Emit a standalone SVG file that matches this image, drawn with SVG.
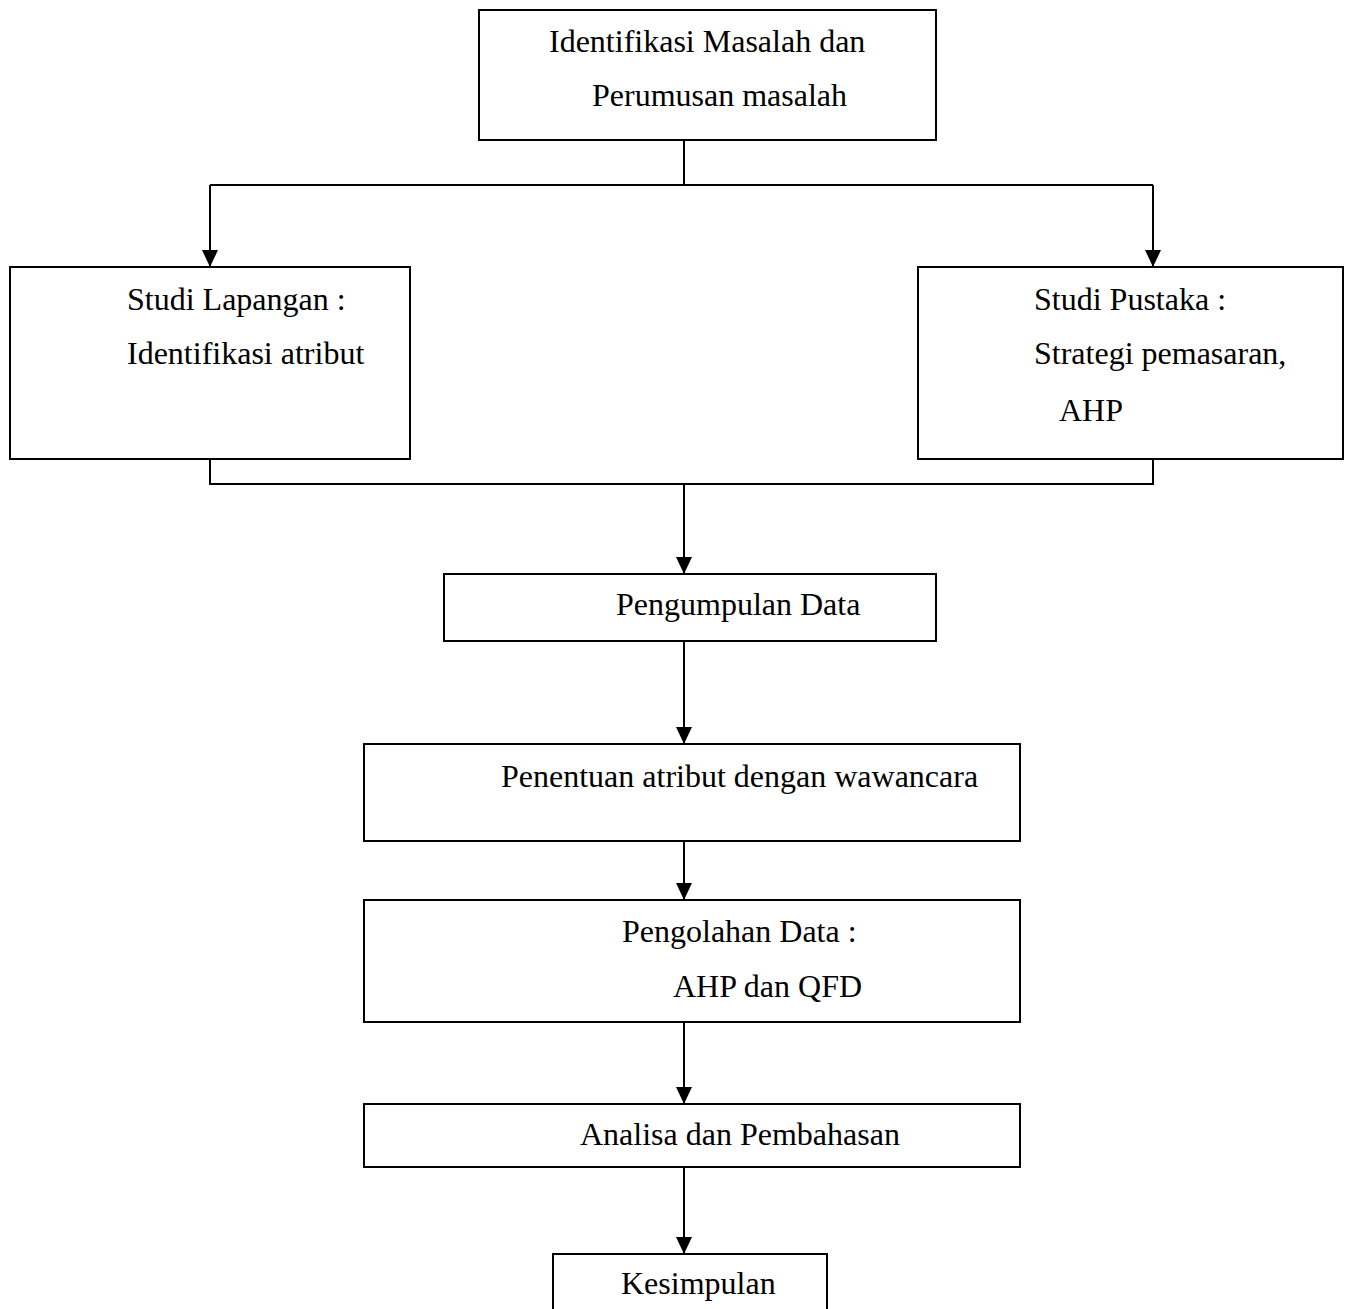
<svg xmlns="http://www.w3.org/2000/svg" width="1347" height="1309" viewBox="0 0 1347 1309">
<style>
.box{fill:#fff;stroke:#000;stroke-width:2}
.ln{fill:none;stroke:#000;stroke-width:2}
text{font-family:"Liberation Serif","Times New Roman",serif;font-size:32px;fill:#000}
</style>
<defs>
<marker id="a" markerWidth="17" markerHeight="16" refX="17" refY="8" orient="auto" markerUnits="userSpaceOnUse">
<path d="M0,0 L17,8 L0,16 Z" fill="#000"/>
</marker>
</defs>
<rect width="1347" height="1309" fill="#fff"/>
<g id="connectors">
<path class="ln" d="M684,140 V185 M210,185 H1153"/>
<path class="ln" d="M210,185 V267" marker-end="url(#a)"/>
<path class="ln" d="M1153,185 V267" marker-end="url(#a)"/>
<path class="ln" d="M210,459 V484 H1153 V459"/>
<path class="ln" d="M684,484 V574" marker-end="url(#a)"/>
<path class="ln" d="M684,641 V744" marker-end="url(#a)"/>
<path class="ln" d="M684,841 V900" marker-end="url(#a)"/>
<path class="ln" d="M684,1022 V1104" marker-end="url(#a)"/>
<path class="ln" d="M684,1167 V1254" marker-end="url(#a)"/>
</g>
<g id="n1"><rect class="box" x="479" y="10" width="457" height="130"/>
<text x="549" y="52">Identifikasi Masalah dan</text>
<text x="592" y="106">Perumusan masalah</text></g>
<g id="n2"><rect class="box" x="10" y="267" width="400" height="192"/>
<text x="127" y="310">Studi Lapangan :</text>
<text x="127" y="364">Identifikasi atribut</text></g>
<g id="n3"><rect class="box" x="918" y="267" width="425" height="192"/>
<text x="1034" y="310">Studi Pustaka :</text>
<text x="1034" y="364">Strategi pemasaran,</text>
<text x="1059" y="421">AHP</text></g>
<g id="n4"><rect class="box" x="444" y="574" width="492" height="67"/>
<text x="616" y="615">Pengumpulan Data</text></g>
<g id="n5"><rect class="box" x="364" y="744" width="656" height="97"/>
<text x="501" y="787">Penentuan atribut dengan wawancara</text></g>
<g id="n6"><rect class="box" x="364" y="900" width="656" height="122"/>
<text x="622" y="942">Pengolahan Data :</text>
<text x="673" y="997">AHP dan QFD</text></g>
<g id="n7"><rect class="box" x="364" y="1104" width="656" height="63"/>
<text x="580" y="1145">Analisa dan Pembahasan</text></g>
<g id="n8"><rect class="box" x="553" y="1254" width="274" height="70"/>
<text x="621" y="1294">Kesimpulan</text></g>
</svg>
